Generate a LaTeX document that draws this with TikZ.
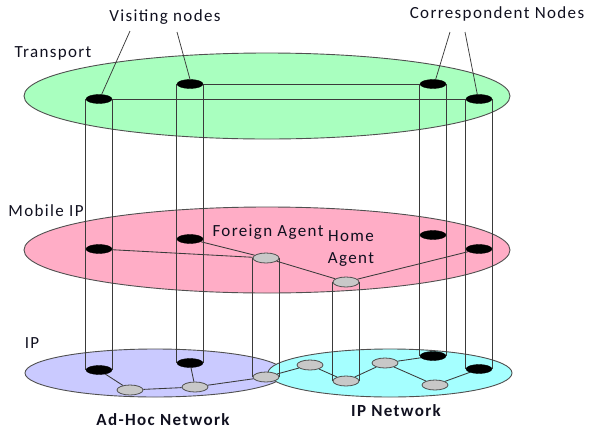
\documentclass[tikz,border=0pt]{standalone}
\usepackage{fontspec}
\setmainfont{Carlito}[LetterSpace=8]
\usetikzlibrary{shapes.geometric}

\definecolor{transportfill}{HTML}{A9FFBF}
\definecolor{mobilefill}{HTML}{FFADC6}
\definecolor{adhocfill}{HTML}{CACAFF}
\definecolor{ipnetfill}{HTML}{A5FFFF}
\definecolor{nodegray}{HTML}{C8C8C8}
\definecolor{edgegray}{HTML}{505050}
\definecolor{linegray}{HTML}{3A3A3A}
\definecolor{labelcol}{HTML}{10101F}

\pgfdeclarelayer{planes}
\pgfdeclarelayer{wires}
\pgfsetlayers{planes,wires,main}

\tikzset{
  layer/.style={draw=edgegray, line width=0.9pt},
  capblack/.style={ellipse, draw=black, fill=black, minimum width=26pt,
    minimum height=9pt, inner sep=0pt},
  capgray/.style={ellipse, draw=edgegray, fill=nodegray, line width=0.8pt,
    minimum width=26pt, minimum height=10pt, inner sep=0pt},
  tube/.style={draw=linegray, line width=0.85pt},
  link/.style={draw=linegray, line width=0.85pt},
  pointer/.style={draw=linegray, line width=0.75pt},
  lbl/.style={font=\fontsize{17}{22}\selectfont, text=labelcol, inner sep=0pt},
  lblb/.style={font=\fontsize{17}{22}\selectfont\bfseries, text=labelcol, inner sep=0pt},
}

\begin{document}
\begin{tikzpicture}[x=1pt, y=-1pt]
\useasboundingbox (0,0) rectangle (590,432);

% protocol planes
\begin{pgfonlayer}{planes}
\filldraw[layer, fill=transportfill] (267,96) ellipse [x radius=243, y radius=43];
\filldraw[layer, fill=mobilefill] (267,250) ellipse [x radius=243, y radius=43];
\filldraw[layer, fill=adhocfill] (155,373) ellipse [x radius=130, y radius=24];
\filldraw[layer, fill=ipnetfill] (390,373) ellipse [x radius=122, y radius=24];
\end{pgfonlayer}

% end hosts: one cap per plane
\node[capblack] (v1t) at (99,99)  {};
\node[capblack] (v1m) at (99,249) {};
\node[capblack] (v1b) at (99,370) {};
\node[capblack] (v2t) at (190,84)  {};
\node[capblack] (v2m) at (190,239) {};
\node[capblack] (v2b) at (190,363) {};
\node[capblack] (c1t) at (433,84)  {};
\node[capblack] (c1m) at (433,235) {};
\node[capblack] (c1b) at (433,356) {};
\node[capblack] (c2t) at (479,99)  {};
\node[capblack] (c2m) at (479,249) {};
\node[capblack] (c2b) at (479,369) {};

% agents and routers
\node[capgray] (fa)  at (266,258) {};
\node[capgray] (fab) at (266,377) {};
\node[capgray] (ha)  at (346,282) {};
\node[capgray] (hab) at (346,381) {};
\node[capgray] (g1) at (130,390) {};
\node[capgray] (g2) at (195,387) {};
\node[capgray] (g3) at (310,365) {};
\node[capgray] (g4) at (385,363) {};
\node[capgray] (g5) at (435,385) {};

\begin{pgfonlayer}{wires}
% vertical tubes through the stack
\foreach \a/\b in {v1t/v1b, v2t/v2b, c1t/c1b, c2t/c2b, fa/fab, ha/hab} {
  \draw[tube] (\a.west) -- (\b.west);
  \draw[tube] (\a.east) -- (\b.east);
}

% transport sessions
\draw[link] (v1t) -- (c2t);
\draw[link] (v2t) -- (c1t);

% mobile IP paths
\draw[link] (v1m) -- (fa);
\draw[link] (v2m) -- (fa);
\draw[link] (fa) -- (ha);
\draw[link] (ha) -- (c2m);

% IP links
\draw[link] (v1b) -- (g1);
\draw[link] (g1) -- (g2);
\draw[link] (v2b) -- (g2);
\draw[link] (g2) -- (fab);
\draw[link] (fab) -- (g3);
\draw[link] (g3) -- (hab);
\draw[link] (hab) -- (g4);
\draw[link] (g4) -- (c1b);
\draw[link] (g4) -- (g5);
\draw[link] (g5) -- (c2b);
\end{pgfonlayer}

% labels
\node[lbl] (vis) at (165,17) {Visiting nodes};
\node[lbl] (cor) at (497,14) {Correspondent Nodes};
\node[lbl] (ltr) at (53,53) {Transport};
\node[lbl] (lmi) at (46,211) {Mobile IP};
\node[lbl] (lip) at (32,343) {IP};
\node[lbl] (lfa) at (268,232) {Foreign Agent};
\node[lbl, align=center] (lha) at (351,249) {Home\\Agent};
\node[lblb] (lah) at (163,420) {Ad-Hoc Network};
\node[lblb] (lin) at (396,411) {IP Network};

% pointers from the captions
\coordinate (pv1) at (130,31);
\coordinate (pv2) at (177,32);
\coordinate (pc1) at (450,32);
\coordinate (pc2) at (465,32);
\draw[pointer] (pv1) -- (v1t.60);
\draw[pointer] (pv2) -- (v2t.north);
\draw[pointer] (pc1) -- (c1t.60);
\draw[pointer] (pc2) -- (c2t.110);
\end{tikzpicture}
\end{document}
